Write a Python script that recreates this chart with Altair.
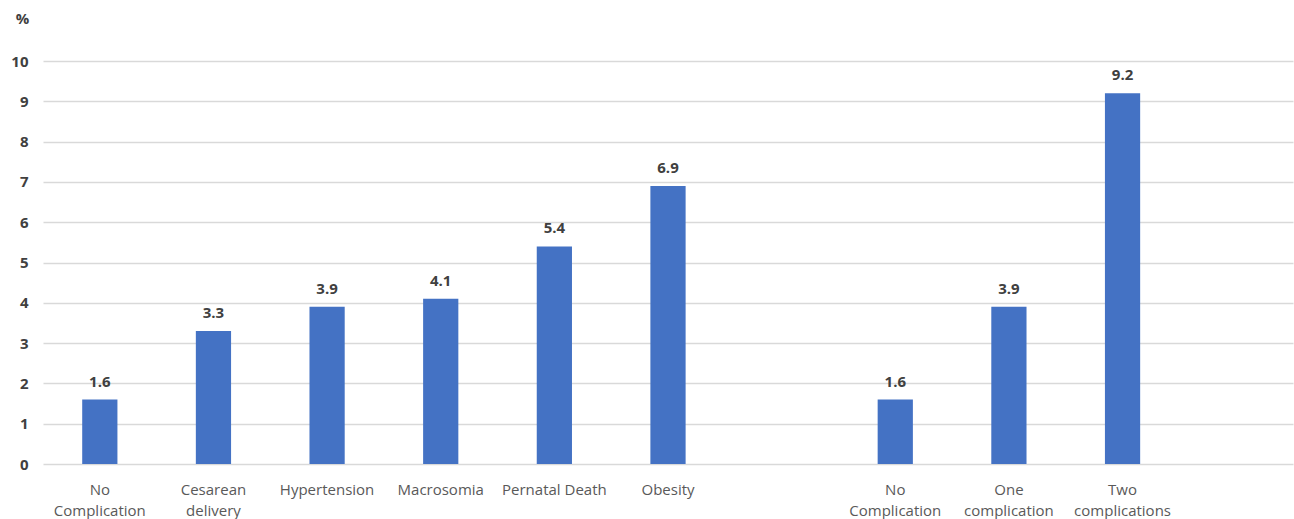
import altair as alt
import pandas as pd

labels = ["No|Complication", "Cesarean|delivery", "Hypertension", "Macrosomia",
          "Pernatal Death", "Obesity", "", "No|Complication", "One|complication",
          "Two|complications", ""]
values = [1.6, 3.3, 3.9, 4.1, 5.4, 6.9, None, 1.6, 3.9, 9.2, None]
y_ticks = list(range(0, 11))

keys = [str(i) for i in range(len(labels))]
rows = [{"key": k, "value": v} for k, v in zip(keys, values) if v is not None]
df = pd.DataFrame(rows)

label_arr = "[" + ",".join("'" + s + "'" for s in labels) + "]"
label_expr = f"split({label_arr}[toNumber(datum.value)], '|')"

FONT = "Open Sans"
x = alt.X("key:N", sort=keys,
          scale=alt.Scale(domain=keys, paddingInner=0.69, paddingOuter=0.345),
          axis=alt.Axis(title=None, labelExpr=label_expr, labelAngle=0,
                        labelFont=FONT, labelFontSize=15, labelColor="#595959",
                        labelPadding=25, labelLineHeight=21, ticks=False,
                        domain=False, labelBaseline="middle"))
y = alt.Y("value:Q",
          scale=alt.Scale(domain=[0, 10], nice=False),
          axis=alt.Axis(values=y_ticks, title="%", titleAngle=0, titleX=-21, titleY=-43,
                        titleAlign="center", titleBaseline="middle", titleFont=FONT,
                        titleFontSize=15, titleFontWeight="bold", titleColor="#404040",
                        labelFont=FONT, labelFontSize=15, labelFontWeight="bold",
                        labelColor="#404040", labelPadding=15, ticks=False, domain=False,
                        gridColor="#d9d9d9", gridWidth=1.5))

base = alt.Chart(df)
bars = base.mark_bar(color="#4472C4").encode(x=x, y=y)
text = base.mark_text(dy=-18, baseline="middle", font=FONT, fontSize=15,
                      fontWeight="bold", color="#404040").encode(
    x=alt.X("key:N", sort=keys), y="value:Q", text=alt.Text("value:Q", format=".1f"))

chart = (bars + text).properties(
    width=1250, height=403,
    padding={"left": 43, "top": 61, "right": 1, "bottom": 55},
    autosize=alt.AutoSizeParams(type="none"),
    background="white",
).configure_view(stroke=None)

chart.save("out.html", embed_options={"renderer": "svg", "actions": False})
